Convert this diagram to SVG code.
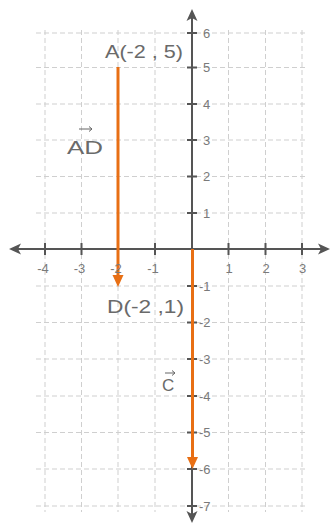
<svg xmlns="http://www.w3.org/2000/svg" width="331" height="527" viewBox="0 0 331 527">
<style>
.grid{stroke:#cfcfcf;stroke-width:1;stroke-dasharray:5 3;fill:none}
.axis{stroke:#555;stroke-width:2;fill:none}
.head{fill:#555}
.tick{stroke:#555;stroke-width:2}
.num{font-family:"Liberation Sans",Arial,sans-serif;font-size:13px;fill:#7a7a7a}
.lbl{font-family:"Liberation Sans",Arial,sans-serif;fill:#6a6a6a}
.vec{stroke:#e86f14;stroke-width:3;fill:none}
.ohead{fill:#e86f14}
</style>
<rect width="331" height="527" fill="#fff"/>
<g id="grid">
<path class="grid" d="M36,33H308M36,67.5H308M36,104H308M36,140H308M36,176.5H308M36,213H308M36,286H308M36,322.5H308M36,359H308M36,396H308M36,432.5H308M36,469H308M36,506H308"/>
<path class="grid" d="M45,30V512M81.5,30V512M118,30V512M155,30V512M228.5,30V512M265.5,30V512M302,30V512"/>
</g>
<g id="connectors">
<g id="x-axis">
<path class="axis" d="M16,249H324"/>
<path class="head" d="M9,249L21,243.5L18,249L21,254.5Z"/>
<path class="head" d="M330,249L318,243.5L321,249L318,254.5Z"/>
</g>
<g id="y-axis">
<path class="axis" d="M192,16V517"/>
<path class="head" d="M192,9L186.5,21L192,18L197.5,21Z"/>
<path class="head" d="M192,523L186.5,511L192,514L197.5,511Z"/>
</g>
<path class="tick" d="M45,243V255M81.5,243V255M118,243V255M155,243V255M228.5,243V255M265.5,243V255M302,243V255"/>
<path class="tick" d="M187,33H197M187,67.5H197M187,104H197M187,140H197M187,176.5H197M187,213H197M187,286H197M187,322.5H197M187,359H197M187,396H197M187,432.5H197M187,469H197M187,506H197"/>
<g id="vecAD">
<path class="vec" d="M118,67V277"/>
<path class="ohead" d="M118,287L112.5,275L123.5,275Z"/>
</g>
<g id="vecC">
<path class="vec" d="M192.5,249V459"/>
<path class="ohead" d="M192.5,469L187,457L198,457Z"/>
</g>
</g>
<g id="x-labels" class="num" text-anchor="middle">
<text x="43" y="273">-4</text>
<text x="79.5" y="273">-3</text>
<text x="116" y="273">-2</text>
<text x="153" y="273">-1</text>
<text x="229" y="273">1</text>
<text x="266" y="273">2</text>
<text x="302.5" y="273">3</text>
</g>
<g id="y-labels" class="num">
<text x="203" y="38">6</text>
<text x="203" y="72">5</text>
<text x="203" y="109">4</text>
<text x="203" y="145">3</text>
<text x="203" y="181">2</text>
<text x="203" y="218">1</text>
<text x="199" y="291">-1</text>
<text x="199" y="327">-2</text>
<text x="199" y="364">-3</text>
<text x="199" y="401">-4</text>
<text x="199" y="437">-5</text>
<text x="199" y="474">-6</text>
<text x="199" y="511">-7</text>
</g>
<g id="pointA"><text class="lbl" x="105" y="58" font-size="18" textLength="78" lengthAdjust="spacingAndGlyphs">A(-2 , 5)</text></g>
<g id="pointD"><text class="lbl" x="107" y="313" font-size="18" textLength="77" lengthAdjust="spacingAndGlyphs">D(-2 ,1)</text></g>
<g id="labelAD">
<text class="lbl" x="67" y="154" font-size="18" textLength="36" lengthAdjust="spacingAndGlyphs">AD</text>
<path d="M79,129H92M89,126.5L92,129L89,131.5" stroke="#666" stroke-width="1" fill="none"/>
</g>
<g id="labelC">
<text class="lbl" x="162" y="391" font-size="17">C</text>
<path d="M165,373H175M172,370.5L175,373L172,375.5" stroke="#666" stroke-width="1" fill="none"/>
</g>
</svg>
